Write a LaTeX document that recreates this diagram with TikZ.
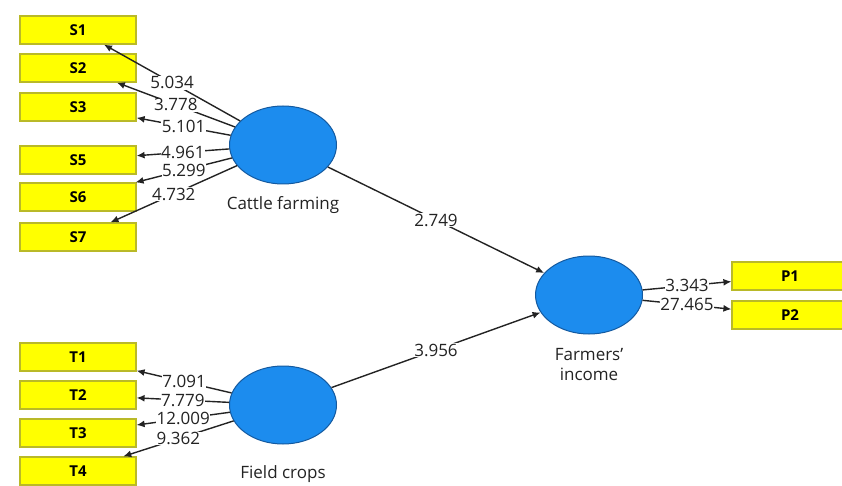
\documentclass[tikz,border=0pt]{standalone}
\usepackage{fontspec}
\setmainfont{Open Sans}
\usetikzlibrary{positioning,shapes.geometric,arrows.meta}
\definecolor{boxyellow}{RGB}{255,255,0}
\definecolor{boxedge}{RGB}{185,185,40}
\definecolor{lvblue}{RGB}{28,140,238}
\definecolor{lvedge}{RGB}{20,90,160}
\definecolor{linegray}{RGB}{35,35,35}
\tikzset{item/.style={draw=boxedge,fill=boxyellow,line width=1.2pt,minimum width=116pt,minimum height=28pt,inner sep=0pt,font=\fontsize{15}{17}\selectfont\bfseries},
         latent/.style={ellipse,draw=lvedge,fill=lvblue,line width=1pt,minimum width=107pt,minimum height=78pt,inner sep=0pt},
         lbl/.style={fill=white,inner sep=0.5pt,text=linegray,font=\fontsize{17}{18}\selectfont},
         lvtitle/.style={text=linegray,align=center,font=\fontsize{17}{20}\selectfont}
}
\tikzstyle{arrow} = [line width=1.4pt,draw=linegray,-{Latex[length=8pt,width=7pt]}]

\begin{document}
\begin{tikzpicture}[x=1pt,y=-1pt]
\useasboundingbox (0,0) rectangle (842,486);
\clip (0,0) rectangle (842,486);

% latent variables
\node[latent] (cattle) at (283,145) {};
\node[latent] (field) at (283,405) {};
\node[latent] (income) at (589,295) {};
\node[lvtitle,below=8pt of cattle] (cattletitle) {Cattle farming};
\node[lvtitle,below=18pt of field] (fieldtitle) {Field crops};
\node[lvtitle,below=10pt of income] (incometitle) {Farmers'\\income};

% indicators
\node[item] (s1) at (78,30) {S1};
\node[item] (s2) at (78,68) {S2};
\node[item] (s3) at (78,107) {S3};
\node[item] (s5) at (78,160) {S5};
\node[item] (s6) at (78,197) {S6};
\node[item] (s7) at (78,237) {S7};
\node[item] (t1) at (78,357) {T1};
\node[item] (t2) at (78,395) {T2};
\node[item] (t3) at (78,433) {T3};
\node[item] (t4) at (78,471) {T4};
\node[item] (p1) at (790,276) {P1};
\node[item] (p2) at (790,315) {P2};

% outer loadings
\draw[arrow] (cattle)--node[lbl] {5.034} (s1);
\draw[arrow] (cattle)--node[lbl] {3.778} (s2);
\draw[arrow] (cattle)--node[lbl] {5.101} (s3);
\draw[arrow] (cattle)--node[lbl] {4.961} (s5);
\draw[arrow] (cattle)--node[lbl] {5.299} (s6);
\draw[arrow] (cattle)--node[lbl] {4.732} (s7);
\draw[arrow] (field)--node[lbl] {7.091} (t1);
\draw[arrow] (field)--node[lbl] {7.779} (t2);
\draw[arrow] (field)--node[lbl] {12.009} (t3);
\draw[arrow] (field)--node[lbl] {9.362} (t4);
\draw[arrow] (income)--node[lbl] {3.343} (p1);
\draw[arrow] (income)--node[lbl] {27.465} (p2);

% path coefficients
\draw[arrow] (cattle)--node[lbl] {2.749} (income);
\draw[arrow] (field)--node[lbl] {3.956} (income);

\end{tikzpicture}
\end{document}
